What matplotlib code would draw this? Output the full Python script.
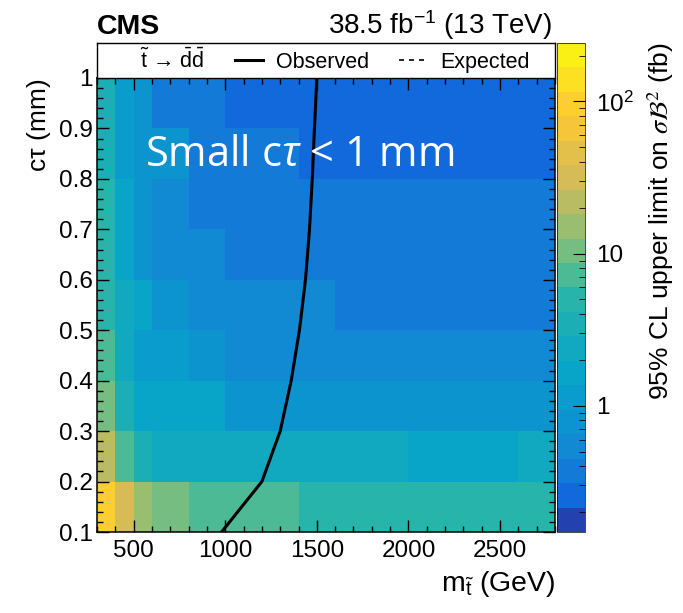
import numpy as np
import matplotlib
matplotlib.use("Agg")
import matplotlib.pyplot as plt
from matplotlib.colors import LinearSegmentedColormap, ListedColormap, LogNorm
from matplotlib.lines import Line2D
from matplotlib.ticker import MultipleLocator, LogLocator, NullFormatter

plt.rcParams['font.family'] = ['Liberation Sans', 'DejaVu Sans']
plt.rcParams['mathtext.fontset'] = 'custom'
plt.rcParams['mathtext.rm'] = 'Liberation Sans'
plt.rcParams['mathtext.it'] = 'Open Sans:italic'
plt.rcParams['mathtext.bf'] = 'Liberation Sans:bold'

# binning of the limit map
mass_edges = [300, 400, 500, 600, 800, 1000, 1200, 1400, 1600, 1800, 2000, 2200, 2400, 2600, 2800]
ctau_edges = [0.1, 0.2, 0.3, 0.4, 0.5, 0.6, 0.7, 0.8, 0.9, 1.0]

# 95% CL upper limits (fb), one row per ctau bin, from 0.1-0.2 mm upwards
limits = [
    [95, 30, 15, 10, 7.2, 7.0, 6.8, 4.9, 4.8, 4.7, 4.6, 4.6, 4.5, 4.5],
    [21, 7.0, 3.4, 2.4, 2.4, 2.1, 2.1, 2.1, 2.1, 2.1, 1.7, 1.7, 1.8, 2.0],
    [10.5, 3.3, 1.6, 1.6, 1.6, 0.78, 0.78, 0.77, 0.77, 0.76, 0.76, 0.76, 0.75, 0.75],
    [6.8, 2.4, 1.1, 1.1, 0.80, 0.55, 0.55, 0.54, 0.54, 0.53, 0.53, 0.53, 0.52, 0.52],
    [4.8, 2.2, 1.5, 0.80, 0.55, 0.55, 0.55, 0.54, 0.38, 0.38, 0.37, 0.37, 0.37, 0.37],
    [4.6, 1.6, 0.85, 0.55, 0.55, 0.37, 0.37, 0.37, 0.36, 0.36, 0.36, 0.36, 0.36, 0.36],
    [4.5, 1.5, 0.80, 0.55, 0.37, 0.37, 0.37, 0.37, 0.36, 0.36, 0.36, 0.36, 0.36, 0.36],
    [3.6, 1.3, 0.75, 0.75, 0.40, 0.40, 0.40, 0.27, 0.27, 0.27, 0.27, 0.27, 0.27, 0.27],
    [3.5, 1.2, 0.72, 0.42, 0.42, 0.26, 0.26, 0.26, 0.26, 0.26, 0.26, 0.26, 0.26, 0.26],
]

# observed exclusion contour
obs_mass = [980, 1200, 1300, 1360, 1405, 1438, 1460, 1475, 1487, 1500]
obs_ctau = [0.1, 0.2, 0.3, 0.4, 0.5, 0.6, 0.7, 0.8, 0.9, 1.0]

z_min, z_max = 0.148, 242

# ROOT kBird palette, 20 contour colours
stops = [0.0, 0.125, 0.25, 0.375, 0.5, 0.625, 0.75, 0.875, 1.0]
red = [0.2082, 0.0592, 0.0780, 0.0232, 0.1802, 0.5301, 0.8186, 0.9956, 0.9764]
green = [0.1664, 0.3599, 0.5041, 0.6419, 0.7178, 0.7492, 0.7328, 0.7862, 0.9832]
blue = [0.5293, 0.8684, 0.8385, 0.7914, 0.6425, 0.4662, 0.3499, 0.1968, 0.0539]
bird = LinearSegmentedColormap.from_list(
    'bird', [(s, (r, g, b)) for s, r, g, b in zip(stops, red, green, blue)])
band_pos = [0.06, 0.17, 0.23, 0.28, 0.32, 0.35, 0.38, 0.41, 0.445, 0.48,
            0.54, 0.60, 0.655, 0.71, 0.76, 0.80, 0.85, 0.89, 0.93, 0.97]
cmap = ListedColormap([bird(p) for p in band_pos])
norm = LogNorm(vmin=z_min, vmax=z_max)

fig = plt.figure(figsize=(6.83, 6.13), dpi=100)
ax = fig.add_axes([0.1420, 0.1321, 0.6706, 0.7407])

mesh = ax.pcolormesh(mass_edges, ctau_edges, np.array(limits), cmap=cmap, norm=norm)
ax.plot(obs_mass, obs_ctau, color='black', lw=2.2)

ax.set_xlim(300, 2800)
ax.set_ylim(0.1, 1.0)
ax.xaxis.set_major_locator(MultipleLocator(500))
ax.xaxis.set_minor_locator(MultipleLocator(100))
ax.yaxis.set_minor_locator(MultipleLocator(0.02))
ax.set_yticks(np.arange(0.1, 1.01, 0.1))
ax.set_yticklabels(['0.1', '0.2', '0.3', '0.4', '0.5', '0.6', '0.7', '0.8', '0.9', '1'])
ax.tick_params(which='both', direction='in', top=True, right=True, labelsize=17.5, width=1.0)
ax.tick_params(which='major', length=8.6)
ax.tick_params(which='minor', length=4.3)
ax.tick_params(axis='x', pad=5.5)
ax.tick_params(axis='y', pad=3)
for sp in ax.spines.values():
    sp.set_linewidth(1.1)

ax.set_xlabel(r'm$_{\tilde{\mathrm{t}}}$ (GeV)', fontsize=20.5, loc='right', labelpad=5)
ax.set_ylabel('c\u03c4 (mm)', fontsize=19, loc='top', labelpad=6)

ax.text(0.105, 0.83, r'Small c$\tau$ < 1 mm', transform=ax.transAxes, color='white',
        fontsize=30, family='Open Sans', va='center', ha='left')

# colour bar
cax = fig.add_axes([0.8155, 0.1321, 0.041, 0.7978])
cb = fig.colorbar(mesh, cax=cax)
cb.outline.set_linewidth(0.5)
cax.yaxis.set_minor_locator(LogLocator(base=10, subs=np.arange(2, 10)))
cax.yaxis.set_minor_formatter(NullFormatter())
cb.set_ticks([1, 10, 100])
cb.set_ticklabels(['1', '10', r'10$^{2}$'])
cax.tick_params(which='both', direction='in', labelsize=17.5, pad=8)
cax.tick_params(which='major', length=8.6)
cax.tick_params(which='minor', length=4.3)
cb.set_label(r'95% CL upper limit on $\sigma\mathcal{B}^2$ (fb)', fontsize=19,
             loc='top', labelpad=8, math_fontfamily='stix')

# legend box above the map
lax = fig.add_axes([0.1420, 0.8728, 0.6706, 0.0571])
lax.set_xticks([])
lax.set_yticks([])
for sp in lax.spines.values():
    sp.set_linewidth(1.0)
handles = [Line2D([], [], linestyle='none'),
           Line2D([], [], color='black', lw=2.2),
           Line2D([], [], color='black', lw=1.2, linestyle=(0, (3, 3)))]
labels = [r'$\tilde{\mathrm{t}}$ ' + '\u2192' + r' $\bar{\mathrm{d}}\bar{\mathrm{d}}$',
          'Observed', 'Expected']
lax.legend(handles, labels, ncol=3, loc='center left', frameon=False, fontsize=15.5,
           handlelength=1.3, handletextpad=0.6, columnspacing=1.4,
           borderaxespad=0.1, borderpad=0.0)

fig.text(0.142, 0.945, 'CMS', fontsize=20.5, fontweight='bold', ha='left', va='baseline')
fig.text(0.808, 0.945, r'38.5 fb$^{-1}$ (13 TeV)', fontsize=20, ha='right', va='baseline')

fig.savefig('out.png', dpi=100)
